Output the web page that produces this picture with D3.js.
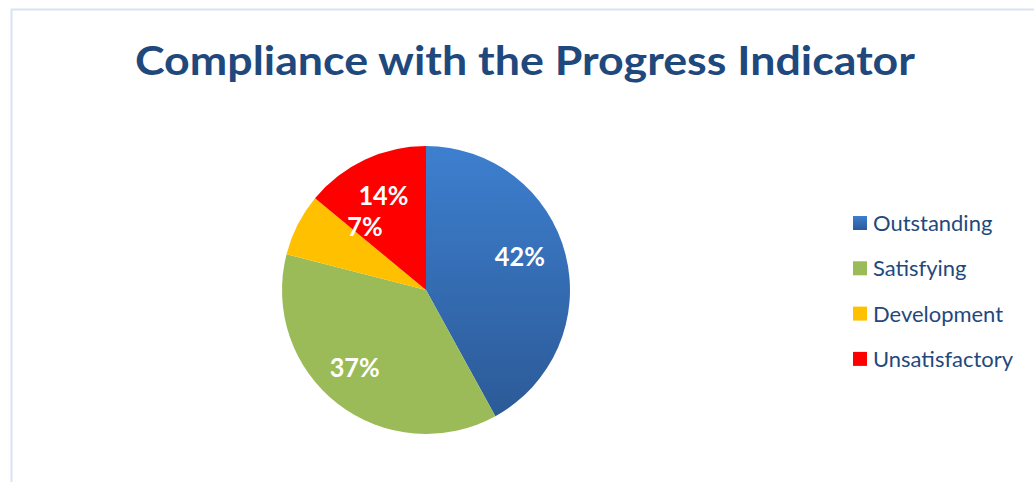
<!DOCTYPE html>
<html>
<head>
<meta charset="utf-8">
<script src="https://cdn.jsdelivr.net/npm/d3@7"></script>
<style>
  body { margin: 0; background: #ffffff; }
  svg { display: block; font-family: Lato, "Open Sans", sans-serif; }
</style>
</head>
<body>
<div id="pieChart"></div>
<script>
// chart data
var categories = ["Outstanding", "Satisfying", "Development", "Unsatisfactory"];
var shares = [42, 37, 7, 14];
var colors = ["#3a70b8", "#9bbb59", "#ffc000", "#ff0000"];
var chartTitle = "Compliance with the Progress Indicator";

var svgWidth = 1034;
var svgHeight = 482;

var svg = d3.select("#pieChart")
    .append("svg")
    .attr("width", svgWidth)
    .attr("height", svgHeight);

// squeeze text horizontally so a Lato line has the width of the Calibri one
function squeeze(sel, factor) {
    sel.each(function () {
        var w = this.getComputedTextLength();
        d3.select(this)
            .attr("textLength", w * factor)
            .attr("lengthAdjust", "spacingAndGlyphs");
    });
}

// gradient for the blue slice
var defs = svg.append("defs");
var grad = defs.append("linearGradient")
    .attr("id", "blueGrad")
    .attr("x1", 0).attr("y1", 0).attr("x2", 0).attr("y2", 1);
grad.append("stop").attr("offset", "0%").attr("stop-color", "#3d7fcf");
grad.append("stop").attr("offset", "100%").attr("stop-color", "#2c5a97");

// light frame (left + top edges only visible)
svg.append("rect")
    .attr("x", 11.5)
    .attr("y", 9.5)
    .attr("width", 1100)
    .attr("height", 600)
    .attr("fill", "none")
    .attr("stroke", "#d9e3f3")
    .attr("stroke-width", 2);

// title
var title = svg.append("text")
    .attr("x", 525)
    .attr("y", 75)
    .attr("text-anchor", "middle")
    .attr("fill", "#1f497d")
    .attr("font-weight", "bold")
    .attr("font-size", "41px")
    .text(chartTitle);
squeeze(title, 780 / title.node().getComputedTextLength());

// pie
var cx = 426, cy = 290, radius = 144;
var pieGroup = svg.append("g")
    .attr("transform", `translate(${cx}, ${cy})`);

var pie = d3.pie().sort(null).value(d => d);
var arcs = pie(shares);
var arc = d3.arc().innerRadius(0).outerRadius(radius);
var labelArc = d3.arc().innerRadius(100).outerRadius(100);

pieGroup.selectAll("path")
    .data(arcs)
    .enter()
    .append("path")
    .attr("d", arc)
    .attr("fill", (d, i) => i === 0 ? "url(#blueGrad)" : colors[i]);

// small nudges like the excel "best fit" labels
var nudge = [[-3, -8], [-10, -1], [28, -18], [0, -4]];

var labels = pieGroup.append("g")
    .selectAll("text")
    .data(arcs)
    .enter()
    .append("text")
    .attr("x", (d, i) => labelArc.centroid(d)[0] + nudge[i][0])
    .attr("y", (d, i) => labelArc.centroid(d)[1] + nudge[i][1] + 9)
    .attr("text-anchor", "middle")
    .attr("fill", "#ffffff")
    .attr("font-weight", "bold")
    .attr("font-size", "26px")
    .text(d => d.data + "%");
squeeze(labels, 50 / labels.filter((d, i) => i === 0).node().getComputedTextLength());

// legend
var legend = svg.append("g")
    .attr("transform", "translate(853, 223)");

var rows = legend.selectAll("g")
    .data(categories)
    .enter()
    .append("g")
    .attr("transform", (d, i) => `translate(0, ${i * 45.3})`);

rows.append("rect")
    .attr("x", 0)
    .attr("y", -7)
    .attr("width", 14)
    .attr("height", 14)
    .attr("fill", (d, i) => i === 0 ? "url(#blueGrad)" : colors[i]);

var legendText = rows.append("text")
    .attr("x", 20)
    .attr("y", 8)
    .attr("fill", "#1f497d")
    .attr("font-size", "21px")
    .text(d => d);
squeeze(legendText, 140 / legendText.filter((d, i) => i === 3).node().getComputedTextLength());
</script>
</body>
</html>
